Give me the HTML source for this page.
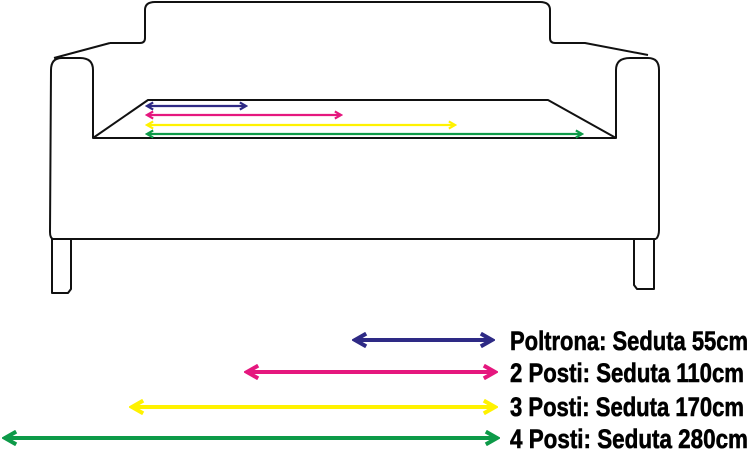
<!DOCTYPE html>
<html><head><style>html,body{margin:0;padding:0;background:#fff}svg{display:block}</style></head>
<body>
<svg width="752" height="450" viewBox="0 0 752 450" xmlns="http://www.w3.org/2000/svg">
<defs>
<marker id="hb" viewBox="0 0 10 10" refX="8" refY="5" markerWidth="4" markerHeight="4" orient="auto-start-reverse"><path d="M1,1 L8,5 L1,9" fill="none" stroke="context-stroke" stroke-width="2.5"/></marker>
</defs>
<g fill="none" stroke="#111" stroke-width="2" stroke-linejoin="round">
<path d="M110,43 L140,43 Q145,43 145,38 L145,10 Q145,2 155,2 L540,2 Q550,2 550,10 L550,38 Q550,43 555,43 L585,43 L648,55"/>
<path d="M110,43 L54,58"/>
<path d="M93,138 L93,70 Q93,58 80,58 L62,58 Q51,58 51,70 L50,232 Q50,238 53,239"/>
<path d="M616,138 L616,70 Q616,58 630,58 L648,58 Q659,58 659,70 L659,230 Q659,236 656,239"/>
<path d="M53,239 L656,239"/>
<path d="M52,239 L52,293 L68,293 L71,289 L71,239"/>
<path d="M634,239 L634,285 L637,289 L654,289 L654,239"/>
<path d="M148,100 L548,100 L616,138 L93,138 Z"/>
</g>
<g fill="none" stroke-width="2.2">
<line x1="147" y1="106" x2="246" y2="106" stroke="#2e2a85" marker-start="url(#hb)" marker-end="url(#hb)"/>
<line x1="147" y1="115" x2="341" y2="115" stroke="#e5177e" marker-start="url(#hb)" marker-end="url(#hb)"/>
<line x1="147" y1="125" x2="455" y2="125" stroke="#fff200" marker-start="url(#hb)" marker-end="url(#hb)"/>
<line x1="147" y1="134" x2="582" y2="134" stroke="#0d9a48" marker-start="url(#hb)" marker-end="url(#hb)"/>
</g>
<g fill="none" stroke-width="4">
<line x1="355" y1="340" x2="492" y2="340" stroke="#2e2a85" marker-start="url(#hb)" marker-end="url(#hb)"/>
<line x1="247" y1="372" x2="495" y2="372" stroke="#e5177e" marker-start="url(#hb)" marker-end="url(#hb)"/>
<line x1="132" y1="407" x2="495" y2="407" stroke="#fff200" marker-start="url(#hb)" marker-end="url(#hb)"/>
<line x1="5" y1="438" x2="497" y2="438" stroke="#0d9a48" marker-start="url(#hb)" marker-end="url(#hb)"/>
</g>
<g font-family="'Liberation Sans Narrow','Liberation Sans',sans-serif" font-weight="bold" font-size="27" fill="#000" stroke="#000" stroke-width="0.6">
<text x="510" y="350" textLength="238" lengthAdjust="spacingAndGlyphs">Poltrona: Seduta 55cm</text>
<text x="510" y="382" textLength="234" lengthAdjust="spacingAndGlyphs">2 Posti: Seduta 110cm</text>
<text x="510" y="416" textLength="234" lengthAdjust="spacingAndGlyphs">3 Posti: Seduta 170cm</text>
<text x="510" y="448" textLength="238" lengthAdjust="spacingAndGlyphs">4 Posti: Seduta 280cm</text>
</g>
</svg>
</body></html>
